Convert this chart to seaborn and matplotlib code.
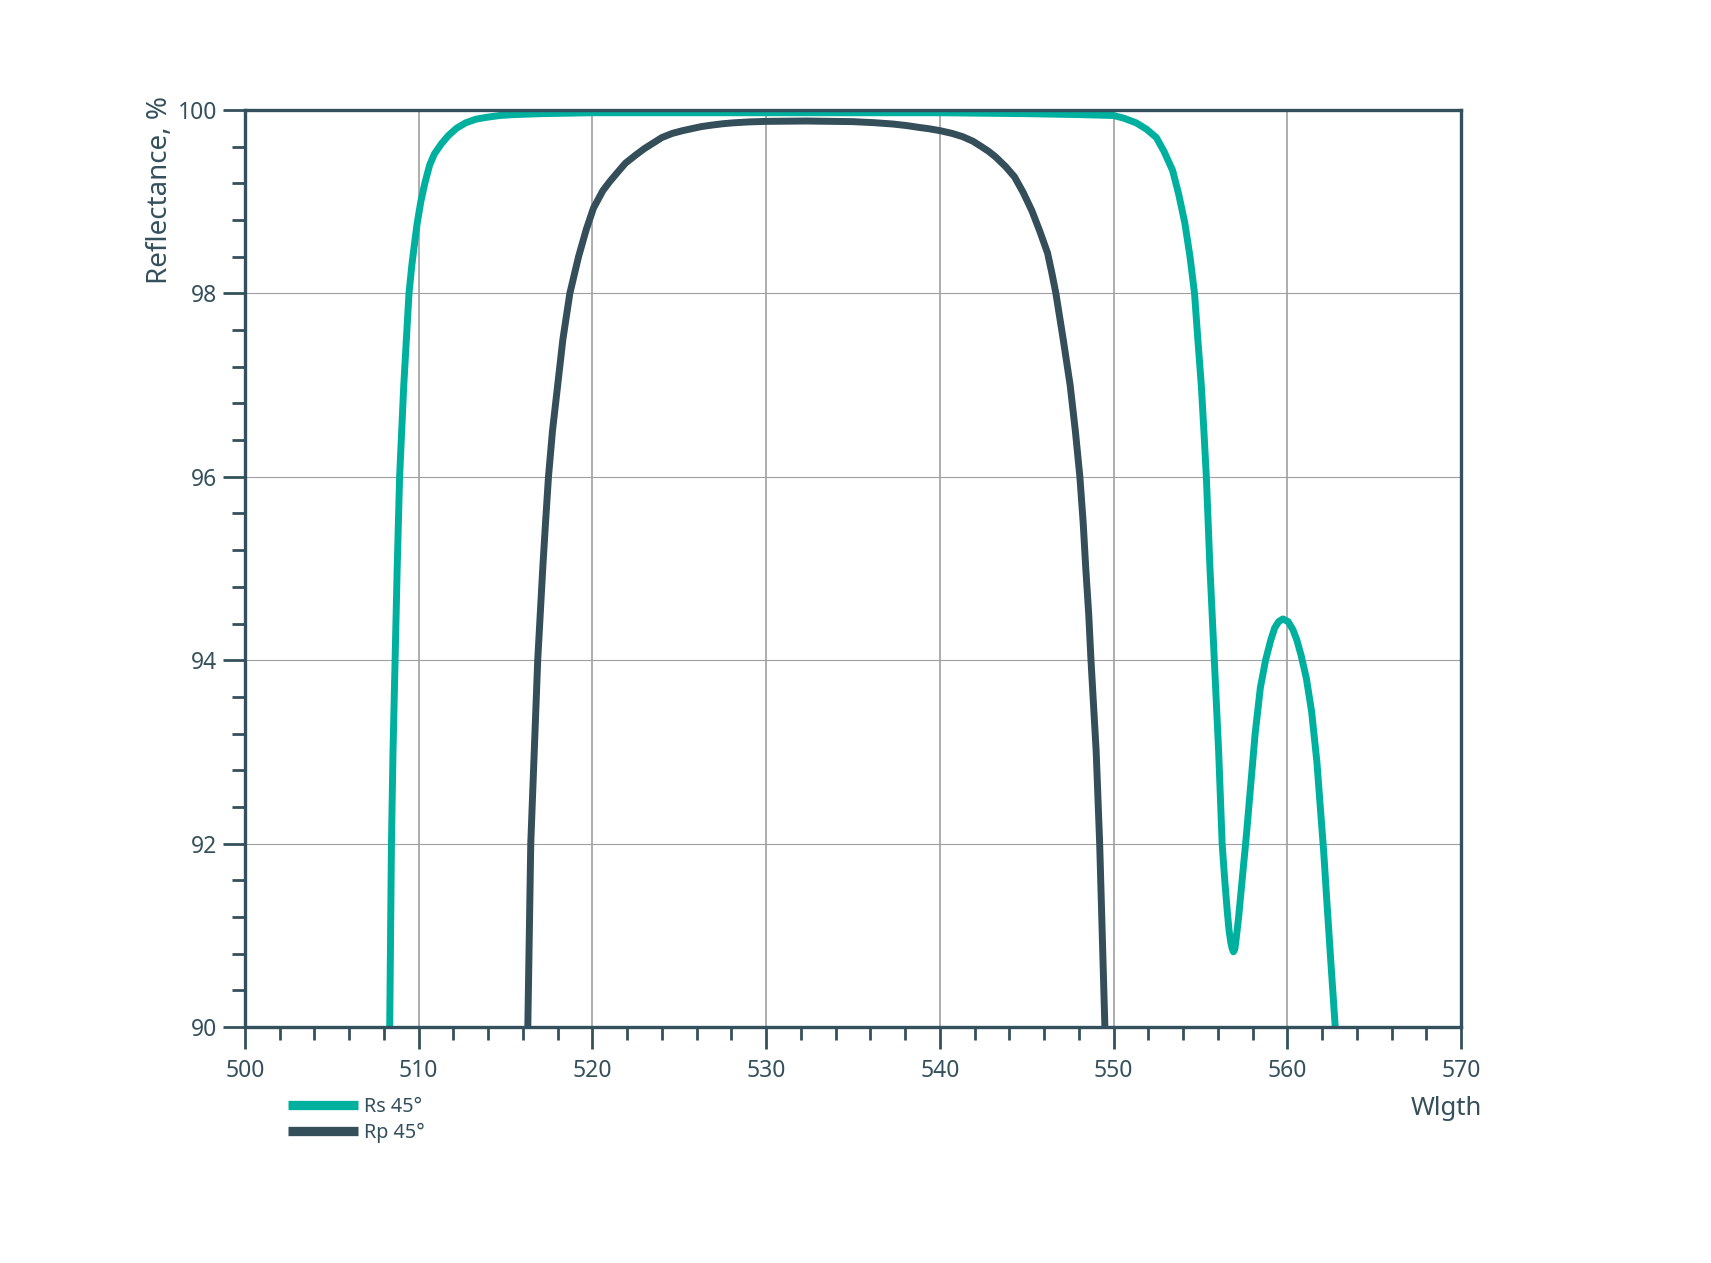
import numpy as np
import pandas as pd
import matplotlib
matplotlib.use("Agg")
import matplotlib.pyplot as plt
from matplotlib.ticker import MultipleLocator
import seaborn as sns

# ---- data ----
wl_rs = [508.33, 508.43, 508.52, 508.64, 508.76, 508.9, 509.14, 509.44, 509.6, 509.73,
         509.9, 510.12, 510.35, 510.63, 510.9, 511.3, 511.7, 512.17, 512.7, 513.3,
         513.9, 514.66, 515.5, 517.0, 520.0, 530.0, 540.0, 545.0, 548.0, 550.0,
         550.6, 551.3, 551.9, 552.46, 552.9, 553.4, 553.75, 554.1, 554.4, 554.66,
         554.85, 555.05, 555.2, 555.34, 555.55, 555.8, 556.05, 556.15, 556.25, 556.4,
         556.55, 556.65, 556.75, 556.82, 556.9, 556.98, 557.05, 557.2, 557.4, 557.65,
         557.9, 558.15, 558.45, 558.75, 559.05, 559.27, 559.5, 559.75, 560.05, 560.33,
         560.55, 560.8, 561.1, 561.4, 561.7, 561.96, 562.1, 562.25, 562.5, 562.76]
r_rs = [90.0, 92.0, 93.0, 94.0, 95.0, 96.0, 97.0, 98.0, 98.3, 98.5,
        98.75, 99.0, 99.2, 99.4, 99.52, 99.63, 99.72, 99.8, 99.86, 99.9,
        99.92, 99.94, 99.95, 99.96, 99.97, 99.97, 99.97, 99.96, 99.95, 99.94,
        99.91, 99.86, 99.79, 99.70, 99.55, 99.34, 99.08, 98.77, 98.4, 98.0,
        97.5, 97.0, 96.5, 96.0, 95.0, 94.0, 93.0, 92.5, 92.0, 91.6,
        91.25, 91.05, 90.92, 90.86, 90.82, 90.85, 90.95, 91.2, 91.6, 92.1,
        92.65, 93.2, 93.7, 94.0, 94.22, 94.35, 94.42, 94.45, 94.42, 94.33,
        94.22, 94.05, 93.8, 93.44, 92.9, 92.25, 91.9, 91.45, 90.73, 90.0]

wl_rp = [516.28, 516.45, 516.65, 516.85, 517.14, 517.3, 517.47, 517.7, 518.0, 518.3,
         518.7, 519.2, 519.65, 520.06, 520.6, 521.0, 521.4, 521.9, 522.5,
         523.0, 523.5, 524.0, 524.6, 525.2, 525.8, 526.3, 526.9, 527.5, 528.1,
         529.0, 530.0, 532.3, 535.0, 536.2, 537.3, 538.1, 538.8, 539.4, 540.0,
         540.7, 541.3, 541.9, 542.4, 542.8, 543.2, 543.8, 544.3, 544.8, 545.3,
         545.75, 546.2, 546.45, 546.68, 547.1, 547.5, 547.8, 548.06, 548.25, 548.4,
         548.57, 548.7, 549.0, 549.2, 549.35, 549.5]
r_rp = [90.0, 92.0, 93.0, 94.0, 95.0, 95.5, 96.0, 96.5, 97.0, 97.5,
        98.0, 98.4, 98.7, 98.93, 99.12, 99.22, 99.31, 99.42, 99.51,
        99.58, 99.64, 99.70, 99.745, 99.775, 99.80, 99.82, 99.836, 99.85, 99.86,
        99.87, 99.876, 99.88, 99.873, 99.862, 99.847, 99.83, 99.81, 99.795, 99.775,
        99.745, 99.71, 99.66, 99.6, 99.55, 99.49, 99.38, 99.27, 99.1, 98.9,
        98.68, 98.44, 98.22, 98.0, 97.5, 97.0, 96.5, 96.0, 95.5, 95.0,
        94.5, 94.0, 93.0, 92.0, 91.0, 90.0]

series_names = ["Rs 45°", "Rp 45°"]
series_colors = ["#00B09F", "#344E5A"]
x_ticks = [500, 510, 520, 530, 540, 550, 560, 570]
y_ticks = [90, 92, 94, 96, 98, 100]

df = pd.concat([
    pd.DataFrame({"Wlgth": wl_rs, "R": r_rs, "series": series_names[0]}),
    pd.DataFrame({"Wlgth": wl_rp, "R": r_rp, "series": series_names[1]}),
], ignore_index=True)

sns.set_theme(style="white")
plt.rcParams["font.family"] = ["Noto Sans", "DejaVu Sans"]

DARK = "#34505C"
fig = plt.figure(figsize=(17.11, 12.63), dpi=100)
ax = fig.add_axes([245 / 1711, 1 - 1027 / 1263, (1461 - 245) / 1711, (1027 - 110) / 1263])

sns.lineplot(data=df, x="Wlgth", y="R", hue="series", palette=dict(zip(series_names, series_colors)),
             hue_order=series_names, linewidth=5.0, ax=ax, sort=True, estimator=None,
             solid_joinstyle="round", solid_capstyle="butt")

ax.set_xlim(500, 570)
ax.set_ylim(90, 100)
ax.set_xticks(x_ticks)
ax.set_yticks(y_ticks)
ax.xaxis.set_minor_locator(MultipleLocator(2))
ax.yaxis.set_minor_locator(MultipleLocator(0.4))

ax.grid(False)
ax.xaxis.grid(True, which="major", color="#A0A0A0", linewidth=1.2)
ax.yaxis.grid(True, which="major", color="#A0A0A0", linewidth=0.8)
ax.set_axisbelow(True)

for sp in ax.spines.values():
    sp.set_visible(True)
    sp.set_color(DARK)
    sp.set_linewidth(2.4)

ax.tick_params(bottom=True, left=True, top=False, right=False, which="both")
ax.tick_params(axis="both", which="major", direction="out", length=16, width=2.0,
               color=DARK, labelcolor=DARK, labelsize=16.5)
ax.tick_params(axis="x", which="major", pad=7)
ax.tick_params(axis="y", which="major", pad=4)
ax.tick_params(axis="both", which="minor", direction="out", length=9.5, width=2.0, color=DARK)

ax.set_xlabel("")
ax.set_ylabel("")
fig.text(160 / 1711, 1 - 96 / 1263, "Reflectance, %", rotation=90, ha="center", va="top",
         fontsize=20, color=DARK)
fig.text(1482 / 1711, 1 - 1115 / 1263, "Wlgth", ha="right", va="baseline",
         fontsize=18.5, color=DARK)

handles, labels = ax.get_legend_handles_labels()
leg = ax.legend(handles, labels, loc="upper left", bbox_to_anchor=(288 / 1711, 1 - 1097 / 1263),
                bbox_transform=fig.transFigure, frameon=False, fontsize=14.3,
                handlelength=3.5, handletextpad=0.35, labelspacing=0.3, borderpad=0,
                borderaxespad=0)
for line in leg.get_lines():
    line.set_linewidth(6.7)
for t in leg.get_texts():
    t.set_color(DARK)

fig.savefig("out.png", dpi=100)
